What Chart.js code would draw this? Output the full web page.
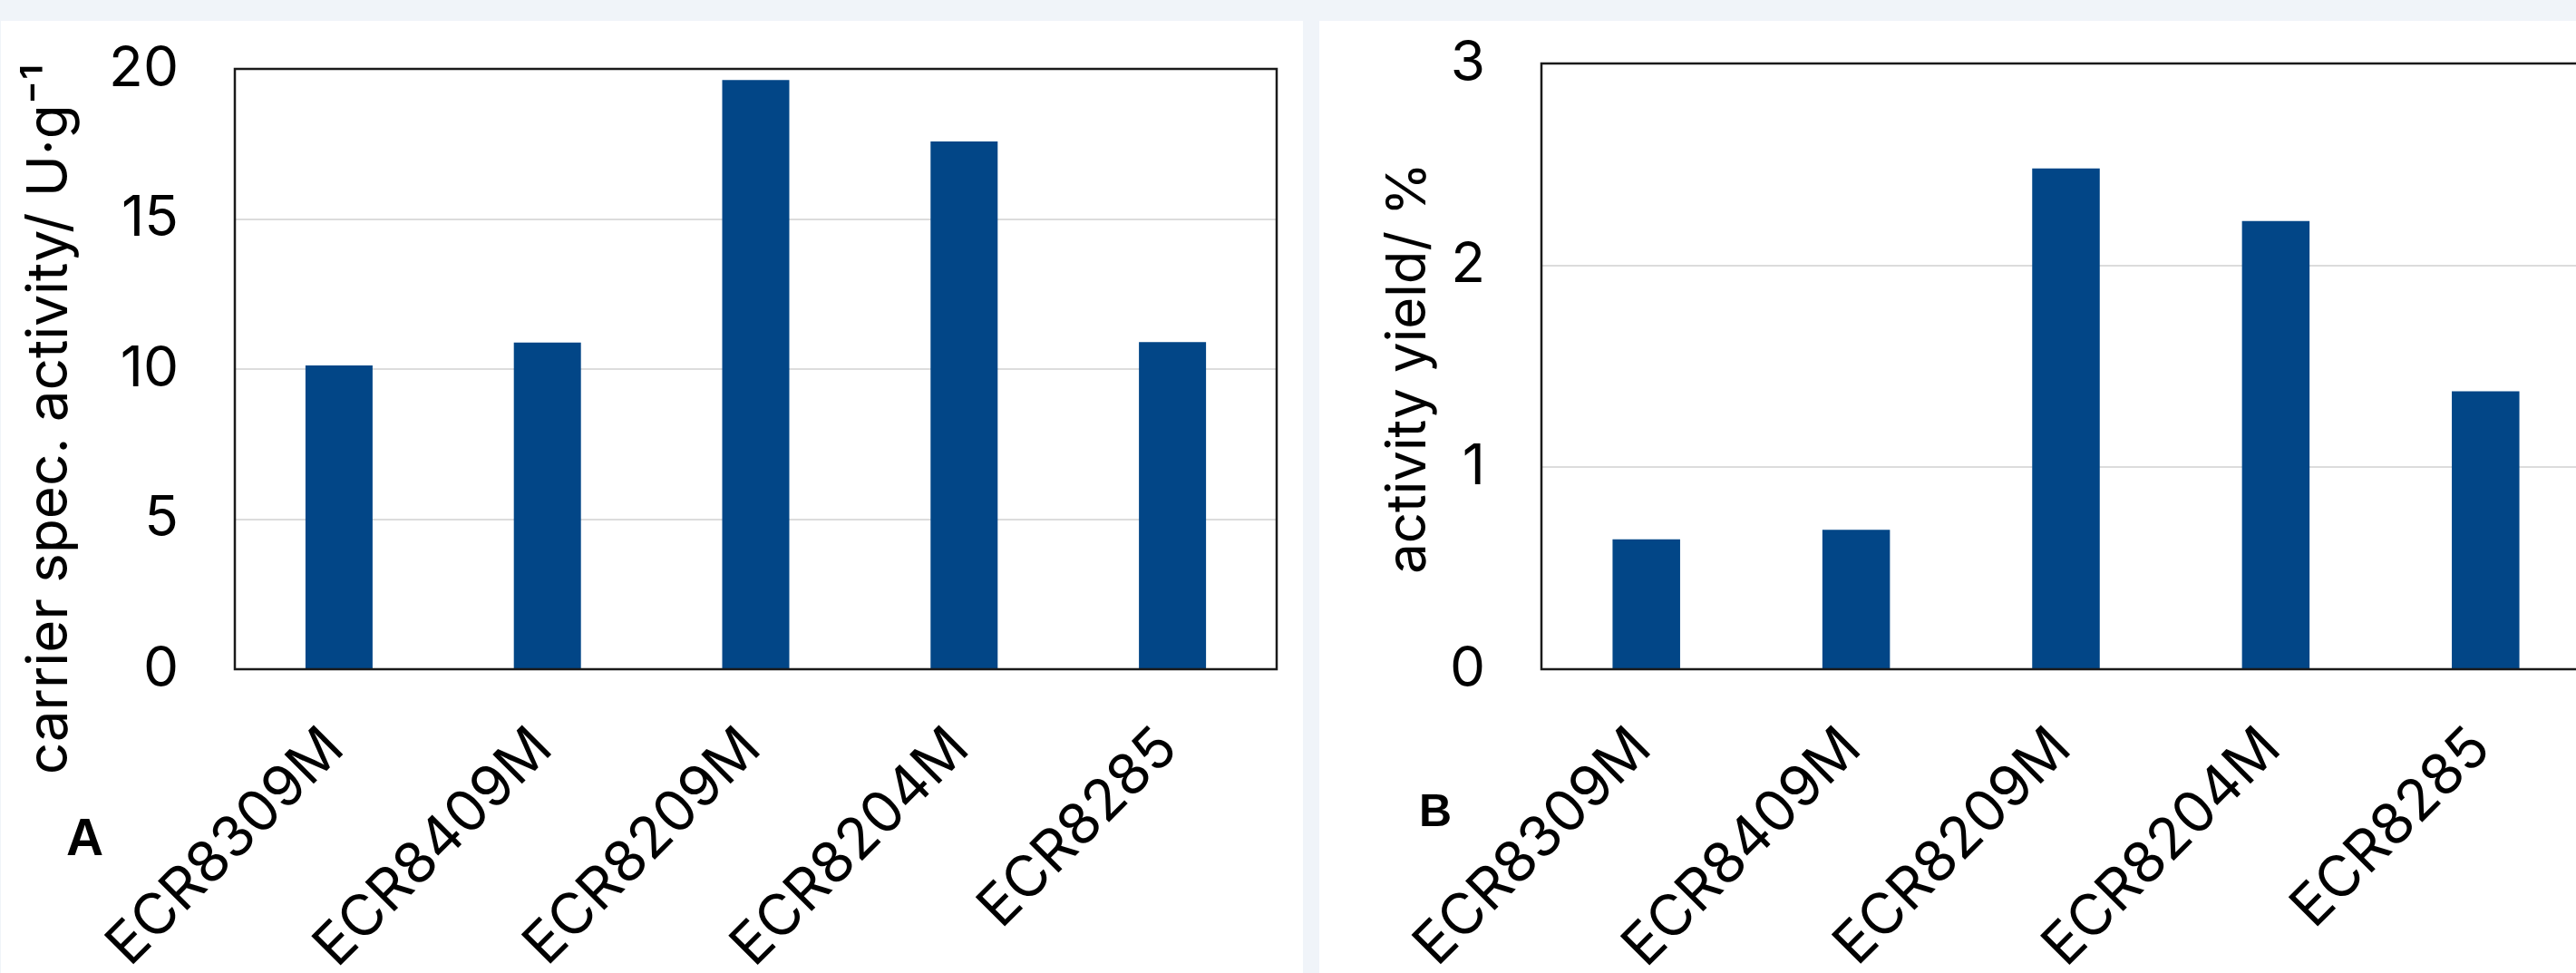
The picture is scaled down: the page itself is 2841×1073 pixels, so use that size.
<!DOCTYPE html>
<html>
<head>
<meta charset="utf-8">
<script src="https://cdn.jsdelivr.net/npm/chart.js@4.4.1/dist/chart.umd.min.js"></script>
<style>
  html, body { margin: 0; padding: 0; }
  body { width: 2841px; height: 1073px; overflow: hidden; background: #f0f4f9; position: relative; }
  .panel { position: absolute; background: #fff; }
  #panelA { left: 1px; top: 23px; width: 1436px; height: 1050px; }
  #panelB { left: 1455px; top: 23px; width: 1450px; height: 1050px; }
</style>
</head>
<body>
<div class="panel" id="panelA"><canvas id="chartA" width="1436" height="1050"></canvas></div>
<div class="panel" id="panelB"><canvas id="chartB" width="1450" height="1050"></canvas></div>
<script>
// data
var carriers = ["ECR8309M", "ECR8409M", "ECR8209M", "ECR8204M", "ECR8285"];
var specActivity = [10.12, 10.88, 19.63, 17.58, 10.9];   // U/g
var activityYield = [0.643, 0.69, 2.48, 2.22, 1.377];    // %
var ticksA = [0, 5, 10, 15, 20];
var ticksB = [0, 1, 2, 3];

var barColor = '#024687';
var fontFam = "Inter, 'DejaVu Sans', sans-serif";

// draws the black frame round the plot, the side title and the panel letter
var frame = {
    id: 'frame',
    afterDatasetsDraw: function (chart, args, opts) {
        var ctx = chart.ctx, a = chart.chartArea;
        ctx.save();
        ctx.strokeStyle = '#1a1a1a';
        ctx.lineWidth = 2.5;
        ctx.strokeRect(a.left, a.top, a.right - a.left, a.bottom - a.top);
        ctx.restore();
    },
    afterDraw: function (chart, args, opts) {
        var ctx = chart.ctx;
        ctx.save();
        ctx.fillStyle = '#000';
        ctx.translate(opts.titleX, opts.titleY);
        ctx.rotate(-Math.PI / 2);
        ctx.font = opts.titleSize + "px " + fontFam;
        ctx.textAlign = 'center';
        ctx.textBaseline = 'middle';
        ctx.fillText(opts.title, 0, 0);
        ctx.restore();

        ctx.save();
        ctx.fillStyle = '#000';
        ctx.font = "bold " + opts.letterSize + "px 'Liberation Sans', Arial, sans-serif";
        ctx.textBaseline = 'alphabetic';
        ctx.fillText(opts.letter, opts.letterX, opts.letterY);
        ctx.restore();
    }
};

function makeChart(id, values, ticks, yWidth, top, right, opts) {
    var ctx = document.getElementById(id);
    return new Chart(ctx, {
        type: 'bar',
        data: {
            labels: carriers,
            datasets: [{
                data: values,
                backgroundColor: barColor,
                borderWidth: 0,
                categoryPercentage: 1,
                barPercentage: 0.322
            }]
        },
        options: {
            responsive: false,
            animation: false,
            layout: { padding: { top: top, right: right, left: 0, bottom: 0 } },
            plugins: {
                legend: { display: false },
                tooltip: { enabled: false },
                frame: opts
            },
            scales: {
                x: {
                    grid: { display: false, drawTicks: false, tickLength: 0 },
                    border: { display: false },
                    ticks: {
                        color: '#000',
                        font: { family: fontFam, size: 63 },
                        minRotation: 45,
                        maxRotation: 45,
                        autoSkip: false,
                        padding: 50,
                        labelOffset: -5
                    },
                    afterFit: function (scale) { scale.height = 335; }
                },
                y: {
                    min: ticks[0],
                    max: ticks[ticks.length - 1],
                    afterBuildTicks: function (scale) {
                        scale.ticks = ticks.map(function (v) { return { value: v }; });
                    },
                    grid: { color: '#dcdcdc', lineWidth: 2, drawTicks: true, tickLength: 62, tickColor: 'rgba(0,0,0,0)' },
                    border: { display: false },
                    ticks: {
                        color: '#000',
                        font: { family: fontFam, size: 62 },
                        padding: 0
                    },
                    afterFit: function (scale) { scale.width = yWidth; }
                }
            }
        },
        plugins: [frame]
    });
}

makeChart('chartA', specActivity, ticksA, 258, 53, 29, {
    title: 'carrier spec. activity/ U\u00b7g\u207b\u00b9',
    titleSize: 62, titleX: 54, titleY: 439,
    letter: 'A', letterX: 72, letterY: 920, letterSize: 57
});
makeChart('chartB', activityYield, ticksB, 245, 47, 48, {
    title: 'activity yield/ %',
    titleSize: 60, titleX: 99, titleY: 383,
    letter: 'B', letterX: 110, letterY: 888, letterSize: 50
});
</script>
</body>
</html>
